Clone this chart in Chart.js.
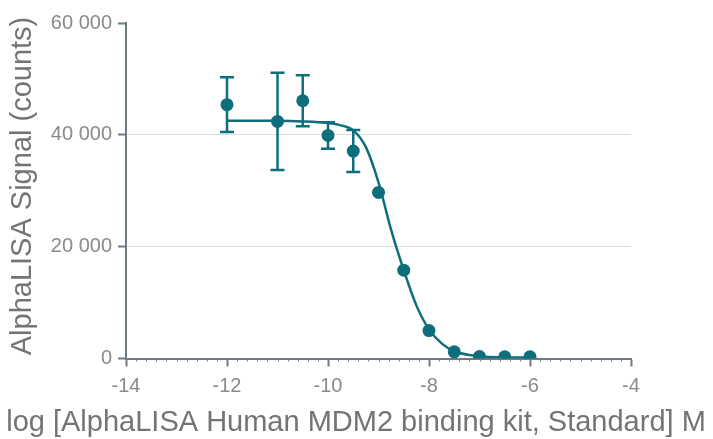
<!DOCTYPE html>
<html>
<head>
<meta charset="utf-8">
<script src="https://cdn.jsdelivr.net/npm/chart.js@4/dist/chart.umd.min.js"></script>
<style>
    html, body { margin: 0; padding: 0; background: #fff; }
    #wrap { width: 713px; height: 439px; }
</style>
</head>
<body>
<div id="wrap"><canvas id="chart"></canvas></div>
<script>
// measured points (log M) with SD
const concLog = [-12, -11, -10.5, -10, -9.5, -9, -8.5, -8, -7.5, -7, -6.5, -6];
const signal = [45400, 42400, 46100, 39900, 37100, 29700, 15800, 5000, 1200, 350, 300, 300];
const signalSd = [4900, 8700, 4550, 2370, 3760, 0, 0, 0, 0, 0, 0, 0];

// fitted curve
const fitLog = [-12, -11, -10.5, -10, -9.75, -9.5, -9.25, -9, -8.75, -8.5, -8.25, -8, -7.75, -7.5, -7, -6.5, -6];
const fitSignal = [42500, 42500, 42400, 42100, 41700, 40800, 37800, 31500, 23000, 15800, 9500, 5200, 2700, 1300, 400, 200, 150];

const xTicks = [-14, -12, -10, -8, -6, -4];
const yTicks = [0, 20000, 40000, 60000];

const teal = '#0e6e7c';
const axisGray = '#6e7c82';
const labelGray = '#8a8a8a';
const titleGray = '#747474';
const fontFamily = '"Liberation Sans", Arial, sans-serif';

function fmt(v) {
    return String(v).replace(/\B(?=(\d{3})+(?!\d))/g, ' ');
}

var errorBars = {
    id: 'errorBars',
    beforeDatasetsDraw: function (chart) {
        var ctx = chart.ctx;
        var xs = chart.scales.x, ys = chart.scales.y;
        ctx.save();
        ctx.strokeStyle = teal;
        ctx.lineWidth = 2.5;
        for (var i = 0; i < concLog.length; i++) {
            if (!signalSd[i]) continue;
            var px = xs.getPixelForValue(concLog[i]);
            var top = ys.getPixelForValue(signal[i] + signalSd[i]);
            var bot = ys.getPixelForValue(signal[i] - signalSd[i]);
            ctx.beginPath();
            ctx.moveTo(px, top); ctx.lineTo(px, bot);
            ctx.moveTo(px - 7, top); ctx.lineTo(px + 7, top);
            ctx.moveTo(px - 7, bot); ctx.lineTo(px + 7, bot);
            ctx.stroke();
        }
        ctx.restore();
    }
};

var extras = {
    id: 'extras',
    afterDraw: function (chart) {
        var ctx = chart.ctx;
        var xs = chart.scales.x;
        var area = chart.chartArea;
        ctx.save();
        // minor ticks on x axis
        ctx.strokeStyle = axisGray;
        ctx.lineWidth = 1;
        for (var k = 0; k <= 50; k++) {
            if (k % 10 === 0) continue;
            var px = Math.round(xs.getPixelForValue(xTicks[0] + k * 0.2)) + 0.5;
            ctx.beginPath();
            ctx.moveTo(px, area.bottom);
            ctx.lineTo(px, area.bottom + 3);
            ctx.stroke();
        }
        // axis titles
        ctx.fillStyle = titleGray;
        ctx.font = '29px ' + fontFamily;
        ctx.textAlign = 'center';
        ctx.textBaseline = 'middle';
        ctx.fillText('log [AlphaLISA Human MDM2 binding kit, Standard] M', 356, 423);
        ctx.translate(23, 186);
        ctx.rotate(-Math.PI / 2);
        ctx.fillText('AlphaLISA Signal (counts)', 0, 0);
        ctx.restore();
    }
};

var ctx = document.getElementById('chart').getContext('2d');

new Chart(ctx, {
    type: 'line',
    data: {
        datasets: [{
            label: 'fit',
            data: fitLog.map(function (x, i) { return { x: x, y: fitSignal[i] }; }),
            borderColor: teal,
            borderWidth: 2.5,
            pointRadius: 0,
            fill: false,
            cubicInterpolationMode: 'monotone'
        }, {
            label: 'data',
            data: concLog.map(function (x, i) { return { x: x, y: signal[i] }; }),
            showLine: false,
            pointRadius: 6.5,
            pointBackgroundColor: teal,
            pointBorderColor: teal,
            pointBorderWidth: 0
        }]
    },
    options: {
        responsive: true,
        maintainAspectRatio: false,
        animation: false,
        layout: { padding: { top: 23, right: 82, bottom: 0, left: 0 } },
        plugins: {
            legend: { display: false },
            tooltip: { enabled: false }
        },
        scales: {
            x: {
                type: 'linear',
                min: -14,
                max: -4,
                afterFit: function (scale) { scale.height = 80.5; },
                afterBuildTicks: function (scale) {
                    scale.ticks = xTicks.map(function (v) { return { value: v }; });
                },
                border: { color: axisGray, width: 2 },
                grid: {
                    drawOnChartArea: false,
                    tickLength: 8,
                    tickColor: axisGray,
                    tickWidth: 2
                },
                ticks: {
                    color: labelGray,
                    font: { size: 20, family: fontFamily },
                    padding: 8,
                    maxRotation: 0,
                    callback: function (v) { return String(v); }
                }
            },
            y: {
                min: 0,
                max: 60000,
                afterFit: function (scale) { scale.width = 126; },
                afterBuildTicks: function (scale) {
                    scale.ticks = yTicks.map(function (v) { return { value: v }; });
                },
                border: { color: axisGray, width: 2 },
                grid: {
                    color: function (c) {
                        var v = c.tick ? c.tick.value : 0;
                        return (v === 20000 || v === 40000) ? '#dddddd' : 'rgba(0,0,0,0)';
                    },
                    lineWidth: 1,
                    tickLength: 8,
                    tickColor: axisGray,
                    tickWidth: 2
                },
                ticks: {
                    color: labelGray,
                    font: { size: 20, family: fontFamily },
                    padding: 6,
                    callback: function (v) { return fmt(v); }
                }
            }
        }
    },
    plugins: [errorBars, extras]
});
</script>
</body>
</html>
